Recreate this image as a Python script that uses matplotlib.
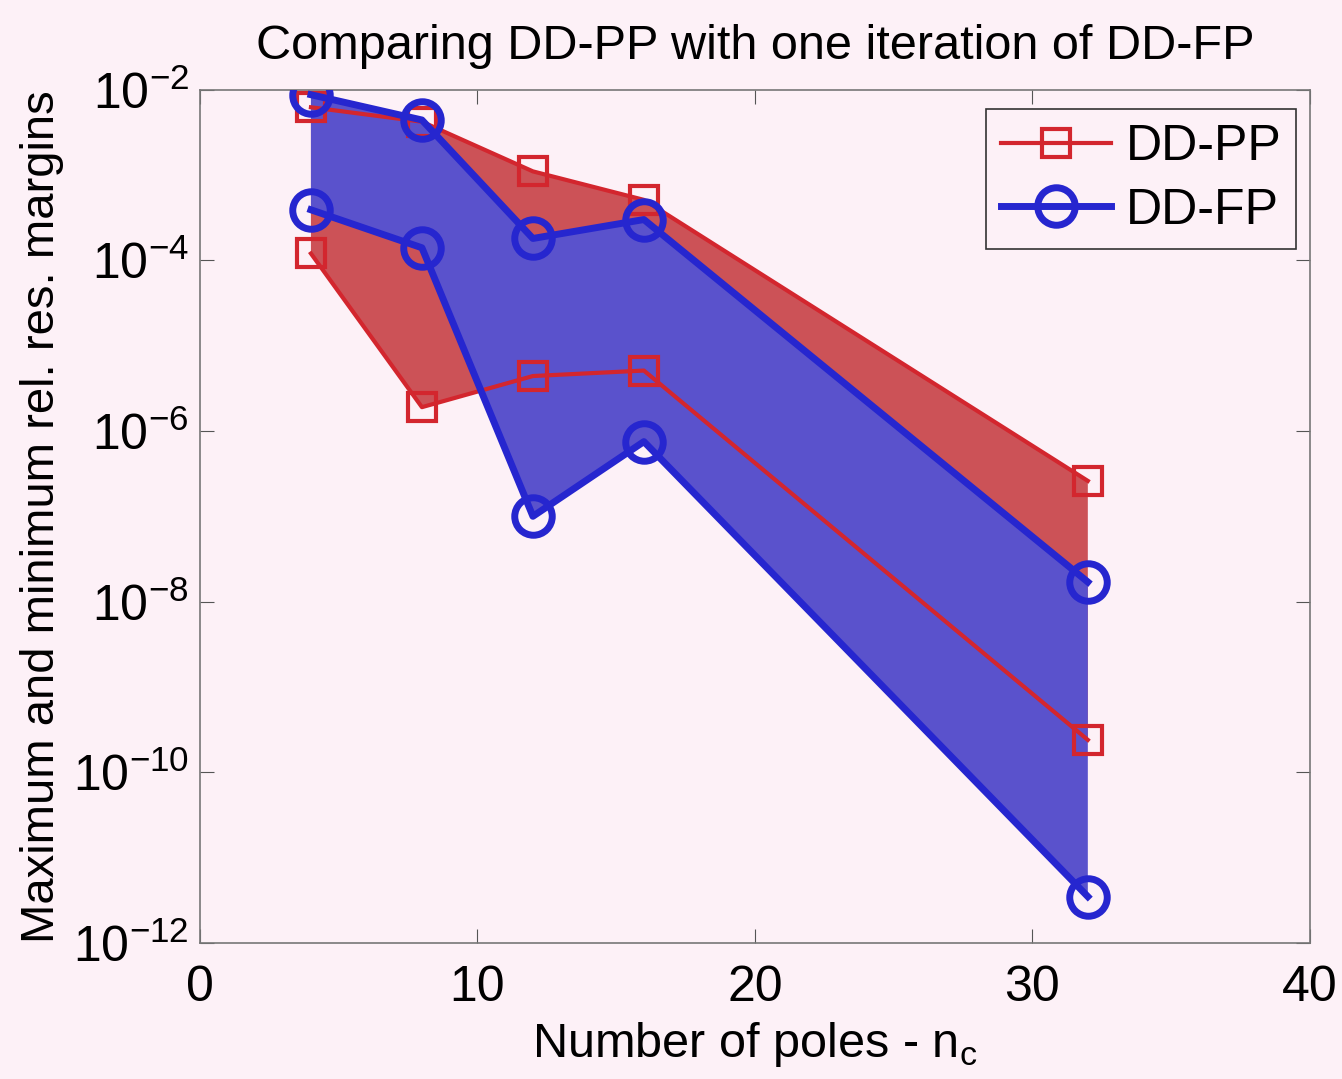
import numpy as np
import matplotlib.pyplot as plt
from matplotlib.ticker import FixedLocator, FuncFormatter

plt.rcParams['font.family'] = ['Liberation Sans', 'DejaVu Sans']
plt.rcParams['mathtext.fontset'] = 'custom'
plt.rcParams['mathtext.rm'] = 'Liberation Sans'

poles = [4, 8, 12, 16, 32]
pp_max = [6.2e-3, 4.2e-3, 1.1e-3, 5.1e-4, 2.6e-7]
pp_min = [1.2e-4, 1.9e-6, 4.4e-6, 5.1e-6, 2.4e-10]
fp_max = [8.7e-3, 4.4e-3, 1.8e-4, 3.0e-4, 1.7e-8]
fp_min = [3.9e-4, 1.4e-4, 1.0e-7, 7.5e-7, 3.5e-12]

bg = '#fdf1f7'
red_line = '#d3262e'
blue_line = '#2626cf'
red_fill = '#cc5257'
blue_fill = '#5a52cc'

fig = plt.figure(figsize=(13.42, 10.79), dpi=100, facecolor=bg)
ax = fig.add_axes([0.149, 0.126, 0.827, 0.791], facecolor=bg)

x = np.array(poles)
poly_x = np.concatenate([x, x[::-1]])
ax.fill(poly_x, np.concatenate([pp_max, pp_min[::-1]]), color=red_fill, lw=0, zorder=1)
ax.fill(poly_x, np.concatenate([fp_max, fp_min[::-1]]), color=blue_fill, lw=0, zorder=2)

ax.plot(x, pp_max, color=red_line, lw=3, marker='s', ms=20, mfc='none', mew=3,
        zorder=3, label='DD-PP')
ax.plot(x, pp_min, color=red_line, lw=3, marker='s', ms=20, mfc='none', mew=3, zorder=3)
ax.plot(x, fp_max, color=blue_line, lw=5, marker='o', ms=27, mfc='none', mew=5,
        zorder=4, label='DD-FP')
ax.plot(x, fp_min, color=blue_line, lw=5, marker='o', ms=27, mfc='none', mew=5, zorder=4)


def log_label(v, pos):
    e = int(round(np.log10(v)))
    return '10$^{\\mathregular{-%d}}$' % abs(e) if e < 0 else '10$^{%d}$' % e


ax.set_yscale('log')
ax.set_xlim(0, 40)
ax.set_ylim(1e-12, 1e-2)
ax.set_xticks([0, 10, 20, 30, 40])
ax.yaxis.set_major_locator(FixedLocator([1e-12, 1e-10, 1e-8, 1e-6, 1e-4, 1e-2]))
ax.yaxis.set_minor_locator(FixedLocator([]))
ax.yaxis.set_major_formatter(FuncFormatter(log_label))
ax.tick_params(which='both', direction='in', top=True, right=True, length=10,
               labelsize=36, color='#555555')
ax.tick_params(axis='x', pad=16)
ax.tick_params(axis='y', pad=8)
for s in ax.spines.values():
    s.set_color('#777777')
    s.set_linewidth(1.2)

ax.set_xlabel('Number of poles - n$_\\mathregular{c}$', fontsize=35, labelpad=6)
ax.set_ylabel('Maximum and minimum rel. res. margins', fontsize=34, labelpad=6)
ax.set_title('Comparing DD-PP with one iteration of DD-FP', fontsize=35, pad=22)

leg = ax.legend(loc='upper right', bbox_to_anchor=(0.988, 0.977), fontsize=36,
                frameon=True, fancybox=False, edgecolor='#333333',
                facecolor=bg, framealpha=1, handlelength=2.2, markerscale=1.0,
                borderpad=0.3, labelspacing=0.35, handletextpad=0.3,
                borderaxespad=0)
leg.get_frame().set_linewidth(1.2)

fig.savefig('out.png', dpi=100, facecolor=bg)
